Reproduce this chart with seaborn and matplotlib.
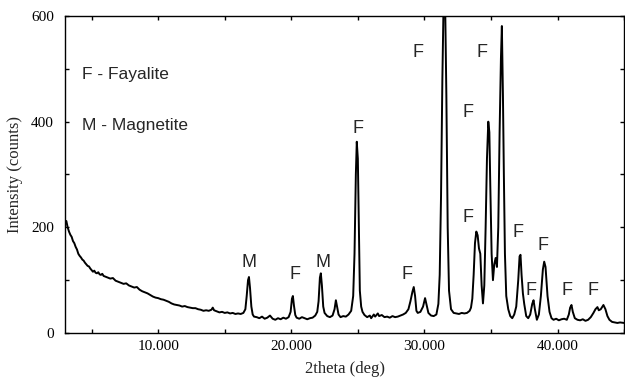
import matplotlib
matplotlib.use("Agg")
import matplotlib.pyplot as plt
import seaborn as sns
import pandas as pd
from matplotlib.ticker import MultipleLocator, FixedLocator, FixedFormatter

# ---- data ----
two_theta = [
    3.0, 3.1, 3.2, 3.3, 3.4, 3.5, 3.6, 3.7, 3.8, 3.9, 4.0, 4.1, 4.2, 4.3, 4.4, 4.5,
    4.6, 4.7, 4.8, 4.9, 5.0, 5.1, 5.2, 5.3, 5.4, 5.5, 5.6, 5.7, 5.8, 5.9, 6.0, 6.2,
    6.4, 6.6, 6.8, 7.0, 7.2, 7.4, 7.6, 7.8, 8.0, 8.2, 8.4, 8.6, 8.8, 9.0, 9.2, 9.4,
    9.6, 9.8, 10.0, 10.2, 10.4, 10.6, 10.8, 11.0, 11.2, 11.4, 11.6, 11.8, 12.0, 12.2,
    12.4, 12.6, 12.8, 13.0, 13.2, 13.4, 13.6, 13.8, 14.0, 14.1, 14.2, 14.4, 14.6,
    14.8, 15.0, 15.2, 15.4, 15.6, 15.8, 16.0, 16.2, 16.4, 16.55, 16.65, 16.75, 16.82,
    16.9, 17.0, 17.1, 17.2, 17.4, 17.6, 17.8, 18.0, 18.2, 18.4, 18.6, 18.8, 19.0,
    19.2, 19.4, 19.6, 19.8, 19.95, 20.05, 20.12, 20.2, 20.3, 20.4, 20.6, 20.8, 21.0,
    21.2, 21.4, 21.6, 21.8, 21.95, 22.05, 22.15, 22.22, 22.3, 22.4, 22.5, 22.7, 22.9,
    23.1, 23.25, 23.35, 23.45, 23.55, 23.7, 23.9, 24.1, 24.3, 24.5, 24.65, 24.75,
    24.85, 24.92, 25.0, 25.08, 25.15, 25.25, 25.35, 25.5, 25.7, 25.9, 26.0, 26.2,
    26.3, 26.5, 26.6, 26.8, 27.0, 27.2, 27.4, 27.6, 27.8, 28.0, 28.2, 28.4, 28.6,
    28.8, 28.95, 29.1, 29.2, 29.3, 29.4, 29.5, 29.7, 29.9, 30.05, 30.15, 30.3, 30.5,
    30.7, 30.9, 31.05, 31.15, 31.25, 31.35, 31.45, 31.55, 31.65, 31.75, 31.85, 32.0,
    32.2, 32.4, 32.6, 32.8, 33.0, 33.2, 33.4, 33.5, 33.6, 33.7, 33.8, 33.9, 34.0,
    34.1, 34.2, 34.3, 34.4, 34.5, 34.6, 34.7, 34.8, 34.88, 34.95, 35.05, 35.15, 35.25,
    35.35, 35.45, 35.55, 35.65, 35.75, 35.82, 35.9, 35.97, 36.05, 36.15, 36.3, 36.45,
    36.6, 36.75, 36.9, 37.05, 37.15, 37.22, 37.3, 37.4, 37.5, 37.65, 37.8, 37.95,
    38.1, 38.2, 38.3, 38.45, 38.6, 38.75, 38.9, 39.0, 39.1, 39.25, 39.4, 39.55, 39.7,
    39.9, 40.1, 40.3, 40.5, 40.7, 40.85, 40.95, 41.05, 41.15, 41.3, 41.5, 41.7, 41.9,
    42.1, 42.3, 42.5, 42.7, 42.85, 43.0, 43.1, 43.25, 43.45, 43.6, 43.75, 43.9, 44.1,
    44.3, 44.5, 44.7, 45.0,
]
counts = [
    208, 212, 200, 192, 186, 182, 174, 170, 163, 158, 150, 146, 143, 139, 137, 133,
    130, 127, 126, 122, 119, 116, 118, 114, 113, 115, 111, 110, 112, 108, 107, 105,
    103, 104, 99, 97, 95, 93, 94, 90, 88, 86, 87, 82, 79, 77, 75, 72,
    69, 67, 66, 64, 63, 61, 59, 56, 54, 53, 52, 50, 51, 49,
    48, 47, 47, 45, 44, 42, 43, 42, 44, 48, 43, 41, 39,
    40, 38, 39, 37, 38, 36, 37, 36, 38, 45, 70, 100, 106,
    85, 50, 35, 31, 30, 28, 31, 27, 29, 33, 27, 25, 28,
    26, 29, 27, 30, 40, 65, 70, 52, 34, 29, 27, 30, 28,
    26, 28, 29, 33, 40, 60, 105, 113, 90, 50, 38, 32, 30,
    33, 45, 62, 48, 35, 30, 32, 31, 35, 42, 70, 150,
    300, 362, 330, 200, 80, 50, 40, 34, 30, 33, 28, 35,
    31, 37, 32, 34, 30, 31, 29, 32, 30, 31, 33, 35, 38,
    45, 60, 78, 87, 70, 42, 38, 40, 50, 66, 55, 38, 33,
    32, 35, 55, 110, 260, 480, 640, 640, 450, 200, 80, 45,
    38, 37, 36, 38, 37, 38, 42, 48, 65, 110, 170, 192, 185,
    160, 150, 90, 56, 90, 200, 330, 400, 380, 280, 150, 100, 130,
    142, 125, 200, 380, 520, 581, 450, 300, 150, 70, 45, 32,
    28, 35, 50, 100, 145, 148, 110, 75, 55, 32, 28, 35,
    55, 62, 45, 25, 35, 70, 120, 135, 125, 70, 40, 28, 25,
    27, 24, 26, 27, 25, 35, 48, 53, 40, 28, 25, 24, 26,
    23, 25, 30, 38, 45, 49, 43, 45, 53, 45, 32, 25, 21,
    20, 19, 20, 19,
]

x_ticks = [10, 20, 30, 40]
x_tick_labels = ["10.000", "20.000", "30.000", "40.000"]
y_ticks = [0, 200, 400, 600]

legend_lines = ["F - Fayalite", "M - Magnetite"]
peak_label_text = ["M", "F", "M", "F", "F", "F", "F", "F", "F", "F", "F", "F", "F", "F"]
peak_label_x = [16.8, 20.3, 22.4, 25.0, 28.7, 29.55, 33.3, 33.3, 34.35, 37.0, 38.0, 38.9, 40.7, 42.7]
peak_label_y = [134, 110, 134, 388, 110, 530, 417, 218, 530, 191, 81, 165, 81, 81]

df = pd.DataFrame({"two_theta": two_theta, "counts": counts})

sns.set_style("ticks")
plt.rcParams["font.family"] = ["Liberation Sans", "DejaVu Sans"]

fig = plt.figure(figsize=(6.25, 3.81), dpi=100)
ax = fig.add_axes([0.104, 0.126, 0.8945, 0.832])

sns.lineplot(data=df, x="two_theta", y="counts", ax=ax, color="black",
             linewidth=1.4, estimator=None, sort=False)

ax.set_xlim(3, 45)
ax.set_ylim(0, 600)

ax.xaxis.set_major_locator(FixedLocator(x_ticks))
ax.xaxis.set_major_formatter(FixedFormatter(x_tick_labels))
ax.xaxis.set_minor_locator(MultipleLocator(5))
ax.yaxis.set_major_locator(FixedLocator(y_ticks))
ax.yaxis.set_minor_locator(MultipleLocator(100))

for side in ["top", "right", "left", "bottom"]:
    ax.spines[side].set_visible(True)
    ax.spines[side].set_linewidth(1.0)
    ax.spines[side].set_color("black")

ax.tick_params(which="both", direction="in", top=True, right=True,
               length=3, width=1.0, colors="black")
ax.tick_params(axis="y", which="major", pad=8)
ax.tick_params(axis="x", which="major", pad=5)
for lab in ax.get_xticklabels() + ax.get_yticklabels():
    lab.set_family(["Liberation Serif", "DejaVu Serif"])
    lab.set_fontsize(11)

ax.set_xlabel("2theta (deg)", family=["Liberation Serif", "DejaVu Serif"],
              fontsize=12, labelpad=6)
ax.set_ylabel("Intensity (counts)", family=["Liberation Serif", "DejaVu Serif"],
              fontsize=12, labelpad=6)

ax.text(0.03, 0.815, legend_lines[0], transform=ax.transAxes, fontsize=12.5,
        ha="left", va="center")
ax.text(0.03, 0.655, legend_lines[1], transform=ax.transAxes, fontsize=12.5,
        ha="left", va="center")

for t, px, py in zip(peak_label_text, peak_label_x, peak_label_y):
    ax.text(px, py, t, fontsize=13, ha="center", va="center")

fig.savefig("out.png", dpi=100)
